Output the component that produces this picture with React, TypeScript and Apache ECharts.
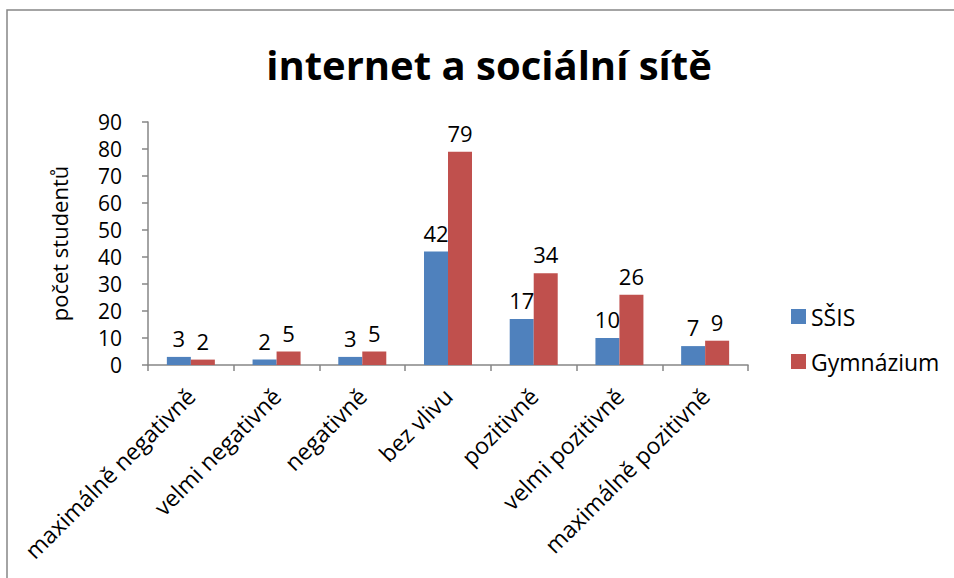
import React, { useEffect, useRef } from "react";
import * as echarts from "echarts";

const categories = [
  "maximálně negativně",
  "velmi negativně",
  "negativně",
  "bez vlivu",
  "pozitivně",
  "velmi pozitivně",
  "maximálně pozitivně",
];
const ssisValues = [3, 2, 3, 42, 17, 10, 7];
const gymValues = [2, 5, 5, 79, 34, 26, 9];
const seriesNames = ["SŠIS", "Gymnázium"];
const titleText = "internet a sociální sítě";
const yAxisName = "počet studentů";

export default function App() {
  const ref = useRef<HTMLDivElement>(null);
  useEffect(() => {
    const chart = echarts.init(ref.current!, null, { renderer: "svg" });
    const font = "'Open Sans', 'Noto Sans', sans-serif";
    const labelStyle = {
      show: true,
      position: "top" as const,
      distance: 8,
      color: "#000",
      fontSize: 22,
      fontFamily: font,
    };
    chart.setOption({
      animation: false,
      backgroundColor: "#fff",
      graphic: [
        {
          type: "rect",
          shape: { x: 7, y: 10, width: 1000, height: 700 },
          style: { fill: "none", stroke: "#868686", lineWidth: 1.5 },
          silent: true,
        },
        {
          type: "text",
          x: 489,
          y: 64,
          silent: true,
          style: {
            text: titleText,
            align: "center",
            verticalAlign: "middle",
            fontSize: 40,
            fontWeight: "bold",
            fill: "#000",
            fontFamily: font,
          },
        },
      ],
      grid: { left: 148, top: 122, width: 600, bottom: 213, containLabel: false },
      legend: {
        orient: "vertical",
        left: 786,
        top: 300,
        itemWidth: 15,
        itemHeight: 15,
        itemGap: 22,
        icon: "rect",
        textStyle: { fontSize: 23, color: "#000", fontFamily: font },
        data: seriesNames,
      },
      xAxis: {
        type: "category",
        data: categories,
        axisLine: { lineStyle: { color: "#868686", width: 1.5 } },
        axisTick: { show: true, length: 6, inside: false, lineStyle: { color: "#868686", width: 1.5 } },
        axisLabel: {
          rotate: 45,
          interval: 0,
          fontSize: 23,
          color: "#000",
          fontFamily: font,
          margin: 27,
        },
      },
      yAxis: {
        type: "value",
        min: 0,
        max: 90,
        interval: 10,
        name: yAxisName,
        nameLocation: "middle",
        nameGap: 78,
        nameTextStyle: { fontSize: 22, color: "#000", fontFamily: font },
        axisLine: { show: true, lineStyle: { color: "#868686", width: 1.5 } },
        axisTick: { show: true, length: 6, lineStyle: { color: "#868686", width: 1.5 } },
        splitLine: { show: false },
        axisLabel: { fontSize: 21, color: "#000", fontFamily: font, margin: 26 },
      },
      series: [
        {
          name: seriesNames[0],
          type: "bar",
          data: ssisValues,
          barGap: "0%",
          barCategoryGap: "44%",
          itemStyle: { color: "#4f81bd" },
          label: labelStyle,
        },
        {
          name: seriesNames[1],
          type: "bar",
          data: gymValues,
          barGap: "0%",
          barCategoryGap: "44%",
          itemStyle: { color: "#c0504d" },
          label: labelStyle,
        },
      ],
    });
    return () => chart.dispose();
  }, []);
  return (
    <div
      ref={ref}
      style={{ position: "absolute", left: 0, top: 0, width: 954, height: 578 }}
    />
  );
}
